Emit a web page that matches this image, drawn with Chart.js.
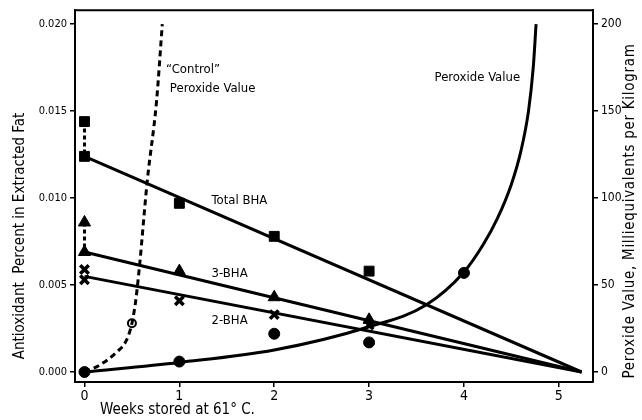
<!DOCTYPE html>
<html>
<head>
<meta charset="utf-8">
<title>BHA and peroxide value</title>
<script src="https://cdn.jsdelivr.net/npm/chart.js@4/dist/chart.umd.min.js"></script>
<style>
	body { margin: 0; background: #fff; }
	#wrap { width: 642px; height: 420px; }
</style>
</head>
<body>
<div id="wrap"><canvas id="bhaChart" width="642" height="420"></canvas></div>
<script>
// values
var xTickValues = [0, 1, 2, 3, 4, 5];
var yTickValues = [0, 0.005, 0.010, 0.015, 0.020];
var y2TickValues = [0, 50, 100, 150, 200];

// measured antioxidant (percent in fat)
var totalBhaWeeks = [0, 0, 1, 2, 3];
var totalBhaValues = [0.0144, 0.0124, 0.0097, 0.0078, 0.0058];
var bha3Weeks = [0, 0, 1, 2, 3];
var bha3Values = [0.0086, 0.0069, 0.0058, 0.0043, 0.0030];
var bha2Weeks = [0, 0, 1, 2, 3];
var bha2Values = [0.0059, 0.0053, 0.0041, 0.0033, 0.0027];

// fitted lines, all going to zero at ~5.24 weeks
var fitWeeks = [0, 5.24];
var totalBhaFit = [0.0124, 0];
var bha3Fit = [0.0069, 0];
var bha2Fit = [0.0055, 0];

// dashed drop at week 0
var dropWeeks = [0, 0];
var totalBhaDrop = [0.0144, 0.0124];
var bha3Drop = [0.0086, 0.0069];

// peroxide value (meq / kg)
var peroxideWeeks = [0, 1, 2, 3, 4];
var peroxideValues = [0, 6, 22, 17, 57];
var peroxideCurveWeeks = [0, 1, 2, 3, 3.6, 4, 4.2, 4.35, 4.5, 4.6, 4.68, 4.73, 4.76];
var peroxideCurveValues = [0, 5.5, 12.6, 26, 38.5, 57.5, 73, 88, 108, 127, 150, 175, 200];

var controlWeeks = [0.5];
var controlValues = [28];
var controlCurveWeeks = [0, 0.16, 0.34, 0.44, 0.5, 0.54, 0.58, 0.66, 0.76, 0.82];
var controlCurveValues = [0, 4, 11.5, 18, 28, 41, 61, 109, 156, 200];

var FONT = '"DejaVu Sans Condensed", "Liberation Sans Narrow", sans-serif';

function pts(xs, ys){
	return xs.map(function(x, i){ return {x: x, y: ys[i]}; });
}

// texts placed in data units of x / left y axis
var notes = [
	{text: 'Total BHA', x: 1.34, y: 0.00983},
	{text: '3-BHA', x: 1.34, y: 0.00563},
	{text: '2-BHA', x: 1.34, y: 0.00293},
	{text: 'Peroxide Value', x: 3.69, y: 0.0169},
	{text: '\u201CControl\u201D', x: 0.86, y: 0.01736},
	{text: 'Peroxide Value', x: 0.9, y: 0.01632}
];

var textPlugin = {
	id: 'textPlugin',
	afterDraw: function(chart){
		var ctx = chart.ctx;
		var area = chart.chartArea;
		var sx = chart.scales.x, sy = chart.scales.y;
		ctx.save();
		// top frame line
		ctx.strokeStyle = '#000';
		ctx.lineWidth = 2;
		ctx.beginPath();
		ctx.moveTo(area.left, area.top);
		ctx.lineTo(area.right, area.top);
		ctx.stroke();

		ctx.fillStyle = '#000';
		ctx.font = '13px ' + FONT;
		ctx.textAlign = 'left';
		ctx.textBaseline = 'middle';
		notes.forEach(function(n){
			ctx.fillText(n.text, sx.getPixelForValue(n.x), sy.getPixelForValue(n.y));
		});

		// axis titles
		ctx.font = '15px ' + FONT;
		ctx.fillText('Weeks stored at 61\u00B0 C.', 100, 410);

		ctx.textAlign = 'center';
		ctx.save();
		ctx.translate(20, 236);
		ctx.rotate(-Math.PI / 2);
		ctx.fillText('Antioxidant  Percent in Extracted Fat', 0, 0);
		ctx.restore();

		ctx.save();
		ctx.translate(630, 211);
		ctx.rotate(-Math.PI / 2);
		ctx.letterSpacing = '0.7px';
		ctx.fillText('Peroxide Value, Milliequivalents per Kilogram', 0, 0);
		ctx.restore();
		ctx.restore();
	}
};

var black = '#000';

var ctx = document.getElementById('bhaChart').getContext('2d');
var chart = new Chart(ctx, {
	type: 'scatter',
	data: {
		datasets: [
			// fitted lines
			{data: pts(fitWeeks, totalBhaFit), showLine: true, borderColor: black, borderWidth: 3, pointRadius: 0},
			{data: pts(fitWeeks, bha3Fit), showLine: true, borderColor: black, borderWidth: 3, pointRadius: 0},
			{data: pts(fitWeeks, bha2Fit), showLine: true, borderColor: black, borderWidth: 3, pointRadius: 0},
			// dashed drops at week 0
			{data: pts(dropWeeks, totalBhaDrop), showLine: true, borderColor: black, borderWidth: 3, borderDash: [4, 3], pointRadius: 0},
			{data: pts(dropWeeks, bha3Drop), showLine: true, borderColor: black, borderWidth: 3, borderDash: [4, 3], pointRadius: 0},
			// peroxide curves
			{data: pts(peroxideCurveWeeks, peroxideCurveValues), yAxisID: 'y2', showLine: true, borderColor: black, borderWidth: 3, pointRadius: 0, cubicInterpolationMode: 'monotone'},
			{data: pts(controlCurveWeeks, controlCurveValues), yAxisID: 'y2', showLine: true, borderColor: black, borderWidth: 3, borderDash: [6, 4], pointRadius: 0, cubicInterpolationMode: 'monotone'},
			// markers
			{data: pts(totalBhaWeeks, totalBhaValues), pointStyle: 'rect', pointRadius: 7, backgroundColor: black, borderColor: black},
			{data: pts(bha3Weeks, bha3Values), pointStyle: 'triangle', pointRadius: 7, backgroundColor: black, borderColor: black},
			{data: pts(bha2Weeks, bha2Values), pointStyle: 'crossRot', pointRadius: 6, borderWidth: 3.5, backgroundColor: black, borderColor: black},
			{data: pts(peroxideWeeks, peroxideValues), yAxisID: 'y2', pointStyle: 'circle', pointRadius: 5.5, backgroundColor: black, borderColor: black},
			{data: pts(controlWeeks, controlValues), yAxisID: 'y2', pointStyle: 'circle', pointRadius: 4, borderWidth: 2, backgroundColor: '#fff', borderColor: black}
		]
	},
	options: {
		responsive: false,
		animation: false,
		layout: {padding: {top: 10, left: 0, right: 0, bottom: 0}},
		plugins: {
			legend: {display: false},
			tooltip: {enabled: false}
		},
		scales: {
			x: {
				type: 'linear',
				position: 'bottom',
				min: -0.1,
				max: 5.36,
				afterBuildTicks: function(scale){ scale.ticks = xTickValues.map(function(v){ return {value: v}; }); },
				afterFit: function(scale){ scale.height = 38; },
				grid: {drawOnChartArea: false, tickLength: 5, color: black, lineWidth: 1.5},
				border: {color: black, width: 2},
				ticks: {color: black, font: {family: FONT, size: 14}, padding: 1}
			},
			y: {
				position: 'left',
				min: -0.000575,
				max: 0.020805,
				afterBuildTicks: function(scale){ scale.ticks = yTickValues.map(function(v){ return {value: v}; }); },
				afterFit: function(scale){ scale.width = 75; },
				grid: {drawOnChartArea: false, tickLength: 5, color: black, lineWidth: 1.5},
				border: {color: black, width: 2},
				ticks: {color: black, font: {family: FONT, size: 11}, padding: 3, callback: function(v){ return v.toFixed(3); }}
			},
			y2: {
				position: 'right',
				min: -5.75,
				max: 208.05,
				afterBuildTicks: function(scale){ scale.ticks = y2TickValues.map(function(v){ return {value: v}; }); },
				afterFit: function(scale){ scale.width = 49; },
				grid: {drawOnChartArea: false, tickLength: 5, color: black, lineWidth: 1.5},
				border: {color: black, width: 2},
				ticks: {color: black, font: {family: FONT, size: 12}, padding: 3}
			}
		}
	},
	plugins: [textPlugin]
});
</script>
</body>
</html>
